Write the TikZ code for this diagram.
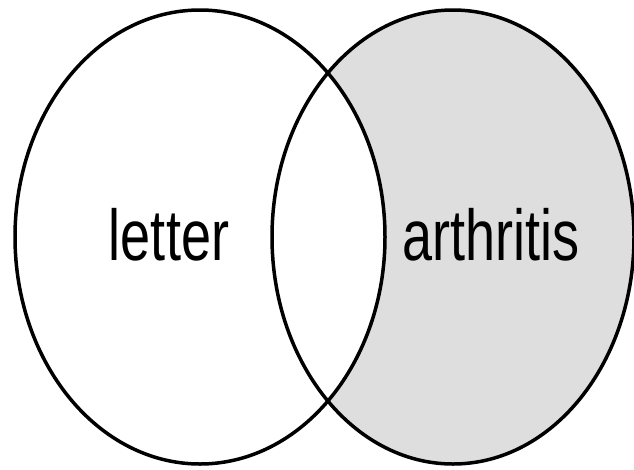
\documentclass[tikz,border=0pt]{standalone}
\usepackage{fontspec}
\newfontfamily\narrowfont{Liberation Sans}[FakeStretch=0.75]
\definecolor{venngray}{HTML}{DEDEDE}
\tikzset{
  setline/.style={draw=black, line width=3.5pt},
  setlabel/.style={inner sep=0pt, anchor=base, font=\narrowfont\fontsize{72}{72}\selectfont}
}
\begin{document}
\begin{tikzpicture}[x=1pt,y=-1pt]
\useasboundingbox (0,0) rectangle (634,469);
\coordinate (cl) at (200,237);
\coordinate (cr) at (453,237);
\fill[venngray] (cr) ellipse [x radius=181, y radius=227];
\fill[white] (cl) ellipse [x radius=185, y radius=227];
\draw[setline] (cl) ellipse [x radius=185, y radius=227];
\draw[setline] (cr) ellipse [x radius=181, y radius=227];
\node[setlabel] (letter) at (169,260) {letter};
\node[setlabel] (arthritis) at (491,260) {arthritis};
\end{tikzpicture}
\end{document}
